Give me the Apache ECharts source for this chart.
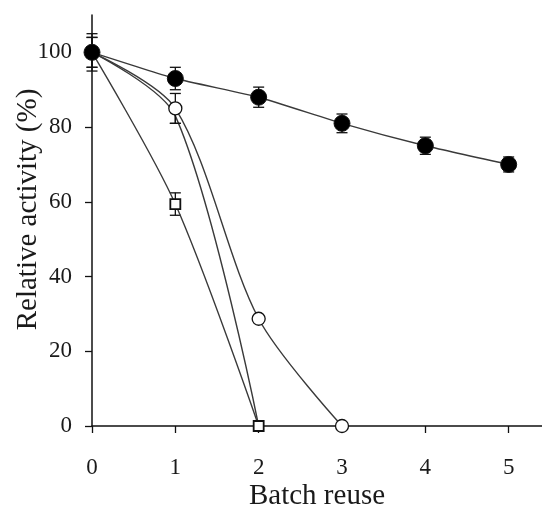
<!DOCTYPE html>
<html>
<head>
<meta charset="utf-8">
<script src="https://cdn.jsdelivr.net/npm/echarts@6/dist/echarts.min.js"></script>
<style>
  html, body { margin: 0; padding: 0; background: #fff; }
  #chart { width: 542px; height: 507px; }
</style>
</head>
<body>
<div id="chart"></div>
<script>
// Batch reuse cycles (x) and relative activity (%) of each preparation
const batches = [0, 1, 2, 3, 4, 5];
const xTicks = [0, 1, 2, 3, 4, 5];
const yTicks = [0, 20, 40, 60, 80, 100];

const filledCircle = [100, 93, 88, 81, 75, 70];
const filledCircleErr = [5, 3, 2.7, 2.5, 2.3, 2];

const openCircle = [100, 85, 28.7, 0];
const openCircleErr = [4, 4, 0, 0];

const openSquare = [100, 59.4, 0];
const openSquareErr = [4, 3, 0];

const hiddenSeries = [100, 83, 0];
const hiddenSeriesErr = [0, 2, 0];

const FONT = '"Liberation Serif", "Times New Roman", serif';
const LINE = '#3a3a3a';

function pairs(ys) { return ys.map((y, i) => [batches[i], y]); }
function errPairs(ys, es) { return ys.map((y, i) => [batches[i], y, es[i]]).filter(d => d[2] > 0); }

function errorBars(name, ys, es) {
  return {
    name: name,
    type: 'custom',
    z: 3,
    silent: true,
    data: errPairs(ys, es),
    renderItem: function (params, api) {
      const x = api.value(0), y = api.value(1), e = api.value(2);
      const top = api.coord([x, y + e]);
      const bot = api.coord([x, y - e]);
      const cap = 5.5;
      const style = { stroke: '#111', lineWidth: 1.3 };
      return {
        type: 'group',
        children: [
          { type: 'line', shape: { x1: top[0], y1: top[1], x2: bot[0], y2: bot[1] }, style: style },
          { type: 'line', shape: { x1: top[0] - cap, y1: top[1], x2: top[0] + cap, y2: top[1] }, style: style },
          { type: 'line', shape: { x1: bot[0] - cap, y1: bot[1], x2: bot[0] + cap, y2: bot[1] }, style: style }
        ]
      };
    }
  };
}

function lineSeries(name, ys, symbol, size, fill, border, smooth, z) {
  return {
    name: name,
    type: 'line',
    z: z,
    data: pairs(ys),
    smooth: smooth,
    symbol: symbol,
    symbolSize: size,
    showSymbol: symbol !== 'none',
    lineStyle: { color: LINE, width: 1.4 },
    itemStyle: { color: fill, borderColor: '#111', borderWidth: border },
    emphasis: { disabled: true }
  };
}

const chart = echarts.init(document.getElementById('chart'), null, { renderer: 'canvas' });
chart.setOption({
  animation: false,
  backgroundColor: '#fff',
  grid: { left: 92, right: 0, top: 15, bottom: 81, outerBoundsMode: 'none', containLabel: false },
  xAxis: {
    type: 'value',
    min: 0,
    max: 5.4,
    interval: 1,
    name: 'Batch reuse',
    nameLocation: 'middle',
    nameGap: 56,
    nameMoveOverlap: false,
    nameTextStyle: { fontFamily: FONT, fontSize: 29, color: '#1a1a1a' },
    axisLine: { lineStyle: { color: '#111', width: 1.5 } },
    axisTick: { show: true, length: 7, inside: false, customValues: xTicks, lineStyle: { color: '#111', width: 1.3 } },
    axisLabel: { customValues: xTicks, margin: 30, fontFamily: FONT, fontSize: 23, color: '#1a1a1a' },
    splitLine: { show: false }
  },
  yAxis: {
    type: 'value',
    min: 0,
    max: 110,
    interval: 20,
    name: 'Relative activity (%)',
    nameLocation: 'middle',
    nameGap: 49,
    nameMoveOverlap: false,
    nameTextStyle: { fontFamily: FONT, fontSize: 29, color: '#1a1a1a', padding: [0, 0, 0, 22] },
    axisLine: { lineStyle: { color: '#111', width: 1.5 } },
    axisTick: { show: true, length: 7, inside: false, customValues: yTicks, lineStyle: { color: '#111', width: 1.3 } },
    axisLabel: { customValues: yTicks, margin: 20, fontFamily: FONT, fontSize: 23, color: '#1a1a1a' },
    splitLine: { show: false }
  },
  series: [
    lineSeries('hidden', hiddenSeries, 'none', 0, '#fff', 0, 0.3, 2),
    errorBars('hiddenErr', hiddenSeries, hiddenSeriesErr),
    lineSeries('square', openSquare, 'rect', 10, '#fff', 1.8, 0.3, 4),
    errorBars('squareErr', openSquare, openSquareErr),
    lineSeries('openCircle', openCircle, 'circle', 13, '#fff', 1.3, 0.3, 5),
    errorBars('openCircleErr', openCircle, openCircleErr),
    lineSeries('filledCircle', filledCircle, 'circle', 16, '#000', 1, 0.15, 6),
    errorBars('filledCircleErr', filledCircle, filledCircleErr)
  ]
});
</script>
</body>
</html>
